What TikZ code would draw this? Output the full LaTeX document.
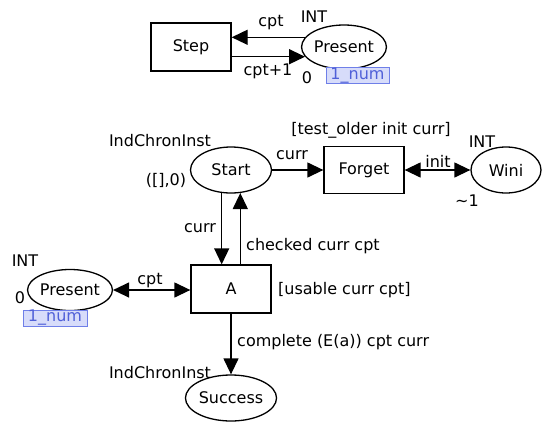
\documentclass[tikz,border=0pt]{standalone}
\usepackage{fontspec}
\setmainfont{DejaVu Sans}
\usetikzlibrary{arrows.meta,shapes.geometric}
\definecolor{numfill}{HTML}{D7DCFA}
\definecolor{numdraw}{HTML}{6F7FE8}
\definecolor{numtext}{HTML}{5060D8}
\tikzset{
  place/.style={draw, ellipse, line width=1.3pt, inner sep=0pt},
  trans/.style={draw, rectangle, line width=1.3pt, inner sep=0pt, minimum width=80pt, minimum height=48pt},
  tip/.tip={Triangle[length=16pt,width=15pt]},
  arr/.style={line width=1.3pt, -tip},
  biarr/.style={line width=1.3pt, tip-tip},
  lbl/.style={inner sep=0pt},
  numbox/.style={draw=numdraw, fill=numfill, text=numtext, line width=0.9pt, inner sep=0pt, minimum width=63pt, minimum height=15pt}
}
\begin{document}
\begin{tikzpicture}[x=1pt,y=-1pt, every node/.style={font=\fontsize{16}{18}\selectfont}]
\useasboundingbox (0,0) rectangle (547,421);
% top
\node[trans] (step) at (191,47) {Step};
\node[place, minimum width=82pt, minimum height=44pt] (p1) at (344,47) {Present};
\draw[arr] (p1.166) -- (p1.166 -| step.east);
\draw[arr] (p1.194 -| step.east) -- (p1.194);
\node[lbl] (lcpt1) at (271,23) {cpt};
\node[lbl] (lcpt2) at (268,71) {cpt+1};
\node[lbl] (int1) at (314,17) {INT};
\node[lbl] (z1) at (307,78) {0};
\node[numbox] (n1) at (357.5,75.5) {1\_num};
% middle
\node[place, minimum width=81pt, minimum height=46pt] (start) at (231,170) {Start};
\node[trans, minimum height=47pt] (forget) at (364,170) {Forget};
\node[place, minimum width=70pt, minimum height=46pt] (wini) at (506,170) {Wini};
\draw[arr] (start) -- (forget);
\draw[biarr] (forget) -- (wini);
\node[lbl] (lcurr1) at (292,155) {curr};
\node[lbl] (linit) at (438,161) {init};
\node[lbl] (ind1) at (160,141) {IndChronInst};
\node[lbl] (init0) at (166,180) {([],0)};
\node[lbl] (guard1) at (371,130) {[test\_older init curr]};
\node[lbl] (int3) at (482,142) {INT};
\node[lbl] (tilde) at (467,201) {\textasciitilde 1};
% A
\node[trans] (a) at (231,289) {A};
\draw[arr] (start.248) -- (start.248 |- a.north);
\draw[arr] (start.292 |- a.north) -- (start.292);
\node[lbl] (lcurr2) at (200,228) {curr};
\node[lbl, anchor=west] (lchk) at (246,246) {checked curr cpt};
\node[lbl, anchor=west] (guard2) at (278,290) {[usable curr cpt]};
\node[place, minimum width=80pt, minimum height=41pt] (p2) at (70,290) {Present};
\draw[biarr] (p2.east) -- (p2.east -| a.west);
\node[lbl] (lcpt3) at (150,281) {cpt};
\node[lbl] (int2) at (25,261) {INT};
\node[lbl] (z2) at (20,298) {0};
\node[numbox, minimum width=64pt, minimum height=16pt] (n2) at (55,318) {1\_num};
% success
\node[place, minimum width=80pt, minimum height=46pt] (success) at (231,398) {Success};
\draw[arr] (a) -- (success);
\node[lbl, anchor=west] (lcomp) at (237,342) {complete (E(a)) cpt curr};
\node[lbl] (ind2) at (160,373) {IndChronInst};
\end{tikzpicture}
\end{document}
